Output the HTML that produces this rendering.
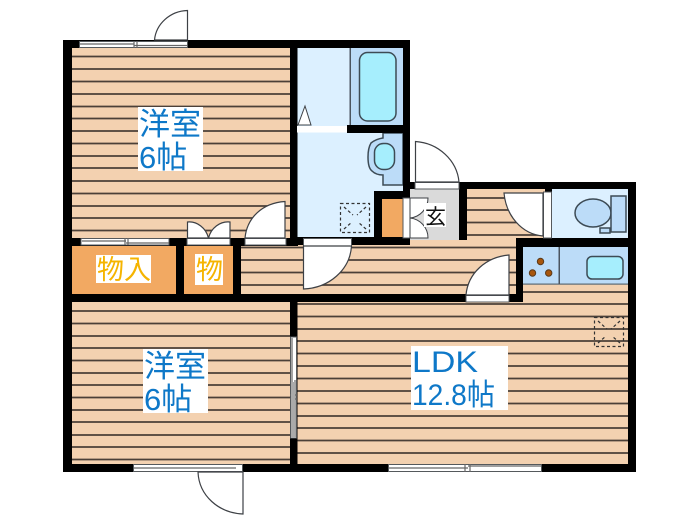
<!DOCTYPE html>
<html><head><meta charset="utf-8">
<style>
html,body{margin:0;padding:0;background:#fff;width:700px;height:525px;overflow:hidden}
svg{display:block;filter:blur(.3px)}
text{font-family:"Liberation Sans","Noto Sans CJK JP",sans-serif}
</style></head>
<body>
<svg width="700" height="525" viewBox="0 0 700 525" xmlns="http://www.w3.org/2000/svg">
<!-- floors -->
<g fill="#f3d1b0">
<rect x="72" y="48" width="218" height="190"/>
<rect x="72" y="302" width="218" height="162"/>
<rect x="241" y="240" width="276" height="55"/>
<rect x="467" y="189" width="80" height="60"/>
<rect x="297" y="295" width="332" height="169"/>
<rect x="523" y="284" width="106" height="20"/>
</g>
<!-- floor lines -->
<g stroke="#4b4038" stroke-width="1.7" fill="none">
<path d="M72 56.500H290M72 69H290M72 81.500H290M72 94H290M72 106.500H290M72 118.500H290M72 131H290M72 143.500H290M72 156H290M72 168H290M72 181H290M72 193.500H290M72 206H290M72 218H290M72 230.500H290"/>
<path d="M72 311H290M72 323.500H290M72 336H290M72 348H290M72 360.500H290M72 373H290M72 385H290M72 397.500H290M72 410H290M72 422H290M72 435H290M72 447H290M72 459.500H290"/>
<path d="M467 198H545M467 210H545M467 222.500H545M467 235H545M241 247.500H516M241 260H516M241 272.500H516M241 285H516"/>
<path d="M523 292H629M297 304H629M297 316.500H629M297 329H629M297 341H629M297 353.500H629M297 366H629M297 378.500H629M297 391H629M297 403.500H629M297 416H629M297 428H629M297 440.500H629M297 453H629"/>
</g>
<!-- blue rooms -->
<rect x="297" y="48" width="54" height="78" fill="#dcf0ff"/>
<rect x="297" y="132" width="107" height="106" fill="#dcf0ff"/>
<rect x="350" y="48" width="53" height="77" fill="#bcdcf8"/>
<rect x="349.500" y="48" width="1.500" height="77" fill="#4b5560"/>
<rect x="359.500" y="52.500" width="36.500" height="68.500" rx="8" fill="#a6eefd" stroke="#3d4b55" stroke-width="1.500"/>
<!-- sink panel -->
<path d="M383 133V138Q376 139 371 143Q368 148 368 157Q368 168 372 171Q376 175 383 175V185H403V133Z" fill="#bcdcf8" stroke="#3d4b55" stroke-width="1.500"/>
<rect x="374.500" y="143.500" width="20" height="26" rx="9" fill="#a6eefd" stroke="#3d4b55" stroke-width="1.500"/>
<!-- toilet room -->
<rect x="552" y="189" width="76" height="49" fill="#dcf0ff"/>
<ellipse cx="593" cy="213" rx="18" ry="14" fill="#bcdcf8" stroke="#3d4b55" stroke-width="1.500"/>
<rect x="611" y="196" width="15" height="36" fill="#bcdcf8" stroke="#3d4b55" stroke-width="1.500"/>
<rect x="600" y="228" width="10" height="5" fill="#bcdcf8" stroke="#3d4b55" stroke-width="1.500"/>
<!-- kitchen -->
<rect x="523" y="247" width="105" height="37" fill="#bcdcf8"/>
<rect x="523" y="283.500" width="105" height="1.200" fill="#5a6a75"/>
<rect x="558.500" y="247" width="1.500" height="37" fill="#4b5560"/>
<rect x="587" y="256.500" width="36" height="22.500" rx="5" fill="#a6eefd" stroke="#3d4b55" stroke-width="1.500"/>
<g fill="#a8560c" stroke="#5a3a1a" stroke-width="1"><circle cx="540.500" cy="261.500" r="3.200"/><circle cx="532.500" cy="273" r="3.200"/><circle cx="548.700" cy="273" r="3.200"/></g>
<!-- closets -->
<g fill="#f2a962">
<rect x="72" y="246" width="104" height="48"/>
<rect x="184" y="246" width="49" height="48"/>
<rect x="382" y="199" width="21" height="38"/>
</g>
<!-- entry -->
<rect x="410" y="188" width="50" height="52" fill="#dadada"/>
<!-- walls -->
<g fill="#000">
<rect x="63" y="40" width="347" height="8"/>
<rect x="63" y="40" width="9" height="432"/>
<rect x="290" y="40" width="7.500" height="205"/>
<rect x="290" y="294" width="7.500" height="178"/>
<rect x="403" y="40" width="7" height="205"/>
<rect x="347" y="125" width="56" height="8"/>
<rect x="374" y="191" width="36" height="8"/>
<rect x="374" y="191" width="8" height="54"/>
<rect x="63" y="238" width="235" height="8"/>
<rect x="297" y="237" width="113" height="8"/>
<rect x="63" y="294" width="460" height="8"/>
<rect x="176" y="238" width="8" height="60"/>
<rect x="233" y="238" width="8" height="60"/>
<rect x="63" y="464" width="573" height="8"/>
<rect x="628" y="182" width="8" height="290"/>
<rect x="459" y="182" width="177" height="7"/>
<rect x="459" y="182" width="8" height="58"/>
<rect x="403" y="182" width="12" height="7"/>
<rect x="516" y="238" width="120" height="9"/>
<rect x="516" y="238" width="7" height="64"/>
<rect x="545" y="182" width="7" height="10"/>
</g>
<!-- windows & openings -->
<g fill="#fff" stroke="#55595c" stroke-width="1">
<rect x="79.500" y="41.500" width="108" height="6"/>
<rect x="81" y="238.500" width="88" height="6.500"/>
<rect x="388.500" y="464.500" width="153" height="7"/>
<rect x="133.500" y="464.500" width="109" height="7"/>
<rect x="290.500" y="337" width="6" height="101"/>
<rect x="297" y="126" width="50" height="6.500" stroke="none"/>
<rect x="415" y="182.500" width="44" height="6.500"/>
<rect x="245" y="238.500" width="41" height="6.500"/>
<rect x="187" y="238.500" width="43" height="6.500"/>
<rect x="303.500" y="238.500" width="48" height="7.500"/>
<rect x="466" y="295.500" width="43" height="6.500"/>
<rect x="543.500" y="192" width="8" height="46"/>
<rect x="403" y="198" width="7" height="40"/>
</g>
<g stroke="#666" stroke-width="1.200" fill="none">
<path d="M80 44H134M134 45.500H187M134 41V48M137 41V48"/>
<path d="M82 241H126M126 243H169M125 238V245M128 238V245"/>
<path d="M389 468H468M468 466H541M465 464V472M470 464V472"/>
<path d="M134 468H236"/>
<path d="M292 338V400M295 380V437M290 395H297M290 399H297"/>
</g>
<rect x="291" y="382" width="4" height="55" fill="#aaa"/>
<!-- doors -->
<g fill="#fff" stroke="#3d4045" stroke-width="1.200">
<path d="M187.500 40V10.500C170 11 156 24 154.500 40Z"/>
<path d="M415.500 182V141.500C438 143 457 160 459 182Z"/>
<path d="M285 238V201.500C262 203 247 218 245 238Z"/>
<path d="M303.500 246V289C329 288 350 270 351.500 246Z"/>
<path d="M243 472V514C219 513 199 496 198 472Z"/>
<path d="M509 295V255C486 257 468 273 466 295Z"/>
<path d="M543 193V236C521 234 506 215 504 193Z"/>
<path d="M187.500 238V222C197 221 206 228 208.500 238ZM230 238V222C220 221 211 228 208.500 238Z"/>
<path d="M410 198H428A20 20 0 0 1 410 218A20 20 0 0 1 428 238H410Z" stroke-width="1"/>
</g>
<path d="M298 125L305 106L311 125Z" fill="#fff" stroke="#3d4045" stroke-width="1"/>
<!-- vents -->
<g fill="none" stroke="#333" stroke-width="1.200" stroke-dasharray="3 2.500">
<rect x="340.500" y="203.500" width="29" height="29"/>
<path d="M344 207L353 215M366 207L357 215M344 229L352 222M366 229L358 222"/>
<rect x="594.500" y="317.500" width="29" height="29"/>
<path d="M598 321L607 329M620 321L611 329M598 343L606 336M620 343L612 336"/>
</g>
<!-- label backgrounds -->
<g fill="#fff">
<rect x="138" y="107" width="65" height="64"/>
<rect x="143" y="349" width="65" height="64"/>
<rect x="411" y="346" width="97" height="64"/>
<rect x="96" y="255" width="55" height="28"/>
<rect x="195" y="254" width="28" height="31"/>
<rect x="424" y="203" width="22" height="24"/>
</g>
<!-- labels -->
<g fill="#0e78c8" font-size="31">
<text x="139" y="135">洋室</text>
<text x="139" y="168">6帖</text>
<text x="144" y="377">洋室</text>
<text x="144" y="410">6帖</text>
<text x="412" y="372" font-size="30" textLength="66" lengthAdjust="spacingAndGlyphs">LDK</text>
<text x="412" y="405" font-size="30" textLength="83" lengthAdjust="spacingAndGlyphs">12.8帖</text>
</g>
<g fill="#f5b400" font-size="27">
<text x="97" y="279">物入</text>
<text x="196" y="279">物</text>
</g>
<text x="425" y="224" font-size="21" fill="#111">玄</text>
</svg>
</body></html>
